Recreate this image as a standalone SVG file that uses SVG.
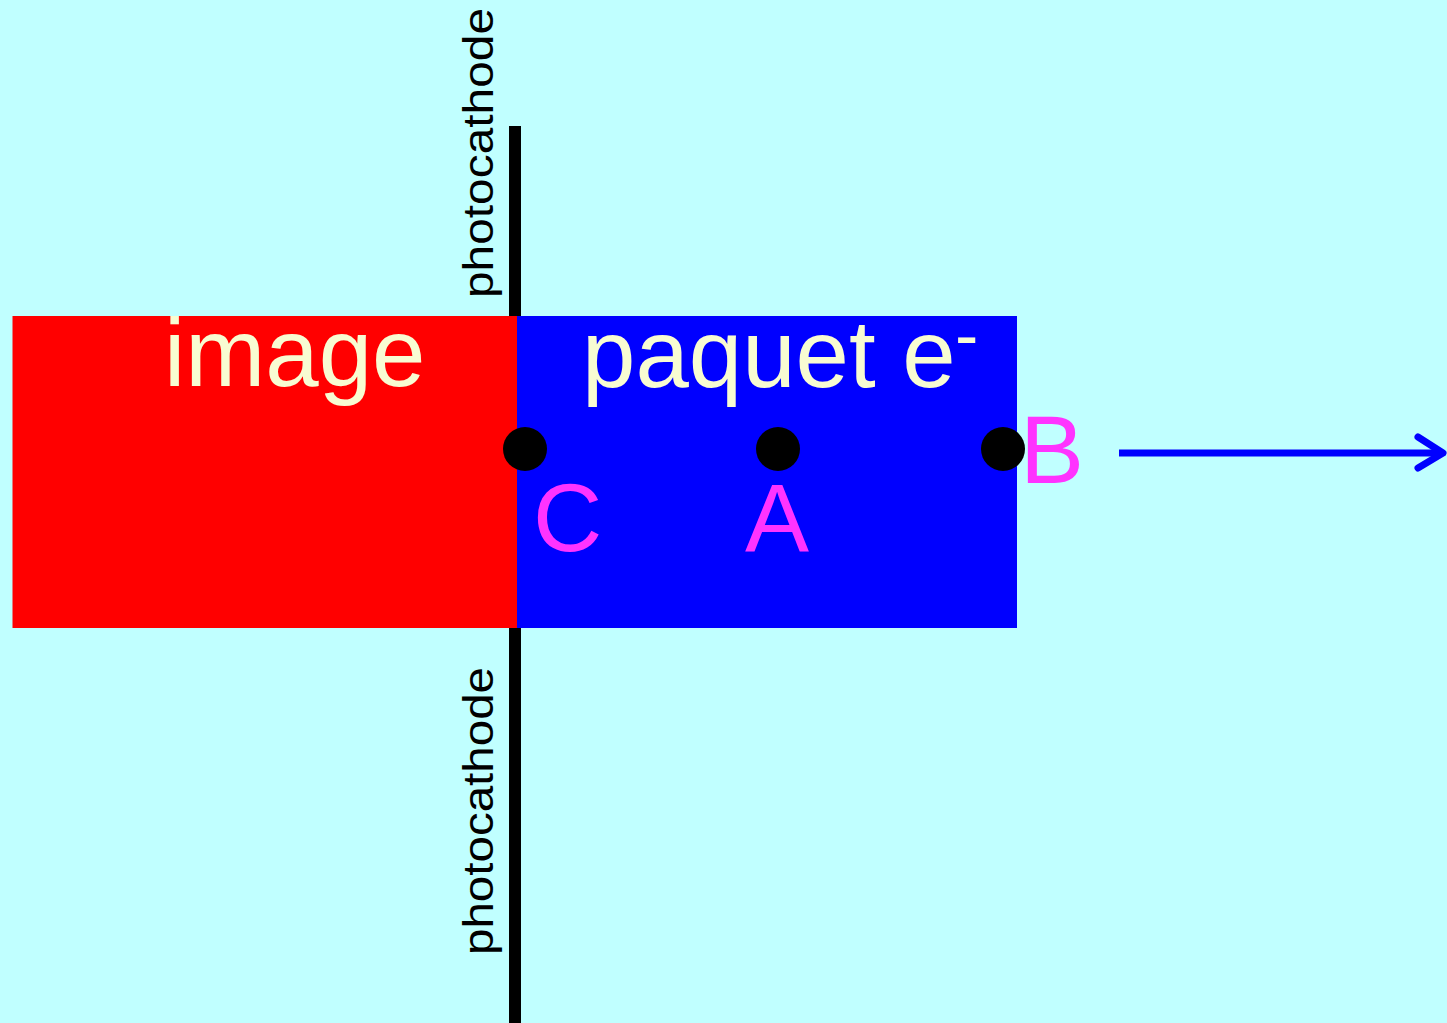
<svg xmlns="http://www.w3.org/2000/svg" width="1447" height="1023" viewBox="0 0 1447 1023">
<style>
.lbl{font-family:"Liberation Sans",Arial,sans-serif;font-size:43px;fill:#000}
.big{font-family:"Liberation Sans",Arial,sans-serif;font-size:96px;fill:#F8FCD2}
.pt{font-family:"Liberation Sans",Arial,sans-serif;font-size:96px;fill:#FF33FF}
.dot{fill:#000}
</style>
<rect width="1447" height="1023" fill="#C0FFFF"/>
<g id="photocathode">
<line x1="515" y1="126" x2="515" y2="1023" stroke="#000" stroke-width="12"/>
<text class="lbl" transform="translate(493,298) rotate(-90)" textLength="290" lengthAdjust="spacingAndGlyphs">photocathode</text>
<text class="lbl" transform="translate(493,955) rotate(-90)" textLength="288" lengthAdjust="spacingAndGlyphs">photocathode</text>
</g>
<g id="image">
<rect x="12.5" y="316" width="504.5" height="312" fill="#FF0000"/>
<text class="big" x="164" y="386">image</text>
</g>
<g id="paquet">
<rect x="517" y="316" width="500" height="312" fill="#0000FF"/>
<text class="big" x="582" y="387">paquet e</text>
<text class="big" x="955" y="359" style="font-size:70px">-</text>
</g>
<g id="C">
<circle class="dot" cx="525" cy="449" r="22"/>
<text class="pt" x="533" y="551">C</text>
</g>
<g id="A">
<circle class="dot" cx="778" cy="449" r="22"/>
<text class="pt" x="745" y="551">A</text>
</g>
<g id="B">
<circle class="dot" cx="1003" cy="449" r="22"/>
<text class="pt" x="1020" y="483">B</text>
</g>
<g id="connectors">
<line x1="1119" y1="453" x2="1443" y2="453" stroke="#0000FF" stroke-width="7"/>
<polyline points="1418,437 1443,453 1418,468" fill="none" stroke="#0000FF" stroke-width="7" stroke-linecap="round" stroke-linejoin="round"/>
</g>
</svg>
